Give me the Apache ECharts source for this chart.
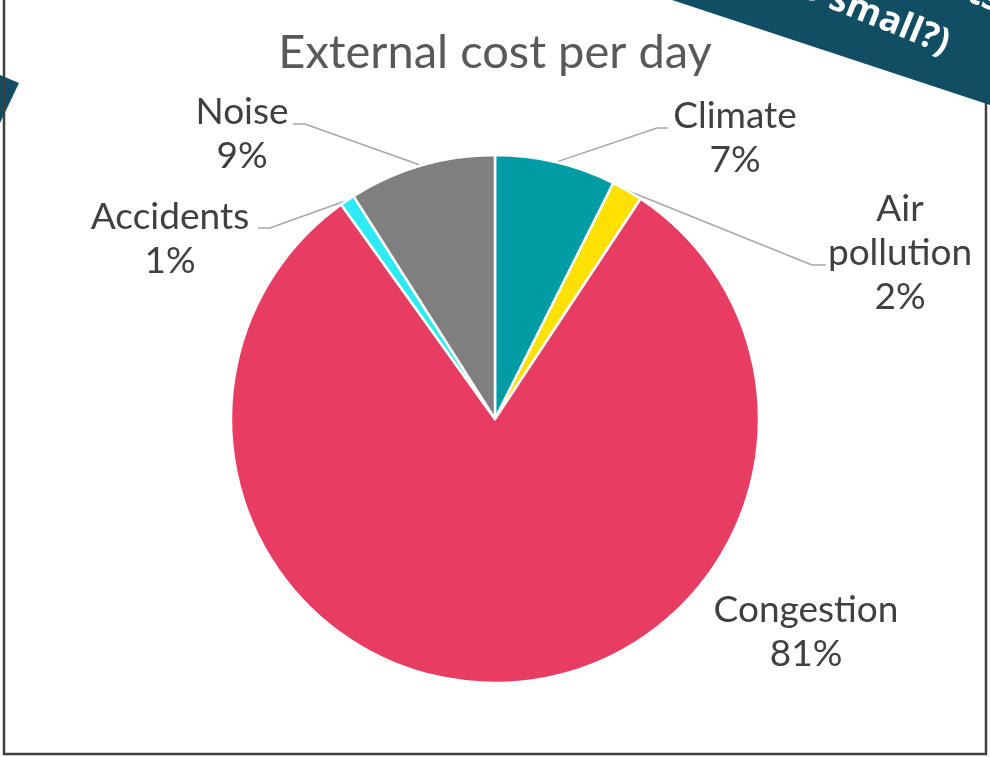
<!DOCTYPE html>
<html>
<head>
<meta charset="utf-8">
<script src="https://cdn.jsdelivr.net/npm/echarts@6/dist/echarts.min.js"></script>
<style>html,body{margin:0;padding:0;background:#fff;}#c{width:990px;height:757px;}</style>
</head>
<body>
<div id="c"></div>
<script>
const titleText = 'External cost per day';
const categories = ['Climate', 'Air pollution', 'Congestion', 'Accidents', 'Noise'];
const labelNames = ['Climate', 'Air\npollution', 'Congestion', 'Accidents', 'Noise'];
const values = [7.4, 1.9, 80.8, 0.9, 9.0];
const colors = ['#009CA6', '#FFE100', '#E83D63', '#2EEAF5', '#7F7F7F'];

// label layout (positions of label centres and leader-line elbows)
const labelCenters = [[735, 138], [900, 253], [806, 632], [170, 239], [242, 134]];
const leaderElbows = [
  [[657, 128], [668, 128]],
  [[812, 265], [826, 265]],
  null,
  [[270, 228], [258, 228]],
  [[305, 124], [293, 124]]
];

const chart = echarts.init(document.getElementById('c'), null, {renderer: 'canvas'});
const data = categories.map((n, i) => ({
  name: n,
  value: values[i],
  itemStyle: {color: colors[i]},
  labelLine: {show: leaderElbows[i] !== null}
}));

chart.setOption({
  animation: false,
  backgroundColor: '#ffffff',
  title: {
    text: titleText,
    left: 'center',
    top: 24,
    textStyle: {fontFamily: 'Lato', fontSize: 47, fontWeight: 'normal', color: '#595959'}
  },
  graphic: [
    {type: 'polygon', z: 1, shape: {points: [[0, 75], [19, 83], [0, 123]]}, style: {fill: '#114E64'}},
    {type: 'rect', z: 2, shape: {x: 4, y: -2, width: 982, height: 756}, style: {fill: 'none', stroke: '#3F3F3F', lineWidth: 2.5}},
    {type: 'polygon', z: 10, shape: {points: [[672, 0], [990, 0], [990, 105]]}, style: {fill: '#114E64'}},
    {type: 'text', z: 11, x: 948, y: 45, rotation: -22 * Math.PI / 180,
      style: {text: 'too small?)', fill: '#ffffff', font: 'bold 36px "Open Sans"', align: 'right', verticalAlign: 'middle'}},
    {type: 'text', z: 11, x: 1000, y: 3, rotation: -22 * Math.PI / 180,
      style: {text: 'costs', fill: '#ffffff', font: 'bold 36px "Open Sans"', align: 'right', verticalAlign: 'middle'}}
  ],
  series: [{
    type: 'pie',
    center: [495, 419],
    radius: 264,
    startAngle: 90,
    clockwise: true,
    avoidLabelOverlap: false,
    data: data,
    itemStyle: {borderColor: '#ffffff', borderWidth: 2.5},
    label: {
      show: true,
      position: 'outside',
      formatter: p => labelNames[p.dataIndex] + '\n' + Math.round(p.percent) + '%',
      fontFamily: 'Lato',
      fontSize: 37,
      lineHeight: 44,
      color: '#404040',
      align: 'center'
    },
    labelLine: {show: true, length: 20, length2: 20, lineStyle: {color: '#A6A6A6', width: 1.5}},
    labelLayout: function (p) {
      const i = p.dataIndex;
      const c = labelCenters[i];
      const res = {x: c[0], y: c[1], align: 'center', verticalAlign: 'middle'};
      if (leaderElbows[i] && p.labelLinePoints) {
        res.labelLinePoints = [p.labelLinePoints[0], leaderElbows[i][0], leaderElbows[i][1]];
      }
      return res;
    },
    emphasis: {disabled: true}
  }]
});
</script>
</body>
</html>
